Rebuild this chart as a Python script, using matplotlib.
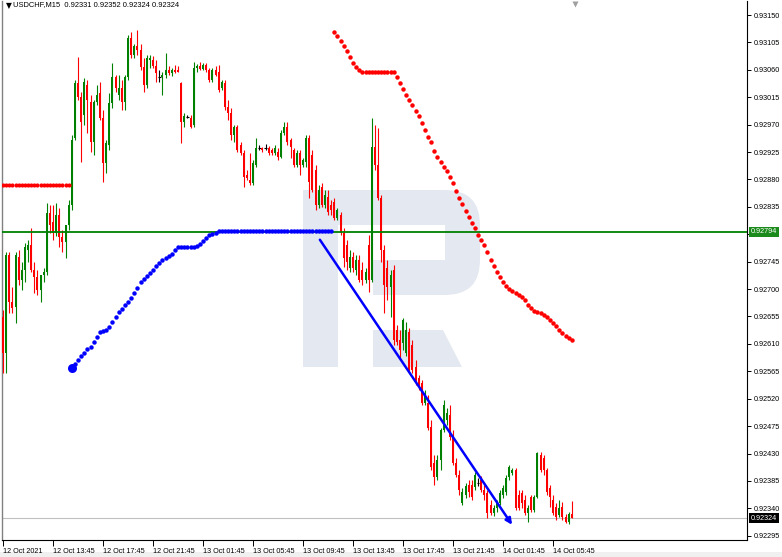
import matplotlib
matplotlib.use("Agg")
import matplotlib.pyplot as plt
from matplotlib.patches import Rectangle, Polygon, FancyBboxPatch
import matplotlib.transforms as mtransforms

# --- data (USDCHF M15, one value per bar) ---
opens = [0.92654, 0.92595, 0.92756, 0.92679, 0.92670, 0.92753, 0.92715, 0.92731, 0.92764, 0.92772,
         0.92731, 0.92720, 0.92698, 0.92723, 0.92728, 0.92825, 0.92810, 0.92792, 0.92822, 0.92785,
         0.92777, 0.92805, 0.92838, 0.92948, 0.93038, 0.93015, 0.92986, 0.93035, 0.93007, 0.92941,
         0.93007, 0.93022, 0.92981, 0.92907, 0.92936, 0.93005, 0.93048, 0.93019, 0.93030, 0.93007,
         0.93048, 0.93112, 0.93084, 0.93099, 0.93092, 0.93065, 0.93035, 0.93076, 0.93076, 0.93066,
         0.93048, 0.93048, 0.93052, 0.93060, 0.93055, 0.93060, 0.93060, 0.93038, 0.92974, 0.92982,
         0.92981, 0.92969, 0.93063, 0.93066, 0.93061, 0.93068, 0.93060, 0.93043, 0.93060, 0.93056,
         0.93030, 0.93038, 0.92999, 0.92989, 0.92953, 0.92966, 0.92937, 0.92923, 0.92887, 0.92879,
         0.92874, 0.92904, 0.92932, 0.92932, 0.92932, 0.92932, 0.92928, 0.92923, 0.92925, 0.92917,
         0.92956, 0.92966, 0.92945, 0.92928, 0.92904, 0.92923, 0.92904, 0.92909, 0.92948, 0.92920,
         0.92895, 0.92838, 0.92868, 0.92838, 0.92851, 0.92838, 0.92843, 0.92817, 0.92822, 0.92792,
         0.92772, 0.92735, 0.92753, 0.92731, 0.92748, 0.92731, 0.92715, 0.92772, 0.92715, 0.92933,
         0.92904, 0.92850, 0.92764, 0.92735, 0.92703, 0.92731, 0.92633, 0.92616, 0.92611, 0.92595,
         0.92629, 0.92608, 0.92572, 0.92554, 0.92546, 0.92513, 0.92513, 0.92474, 0.92414, 0.92391,
         0.92419, 0.92469, 0.92485, 0.92493, 0.92457, 0.92414, 0.92395, 0.92349, 0.92362, 0.92378,
         0.92378, 0.92375, 0.92382, 0.92386, 0.92370, 0.92365, 0.92345, 0.92332, 0.92340, 0.92349,
         0.92362, 0.92367, 0.92391, 0.92398, 0.92403, 0.92362, 0.92365, 0.92354, 0.92332, 0.92359,
         0.92337, 0.92359, 0.92428, 0.92423, 0.92403, 0.92373, 0.92354, 0.92342, 0.92329, 0.92342,
         0.92326, 0.92318, 0.92331]
highs = [0.92666, 0.92761, 0.92761, 0.92703, 0.92761, 0.92764, 0.92744, 0.92776, 0.92781, 0.92800,
         0.92744, 0.92731, 0.92723, 0.92735, 0.92841, 0.92838, 0.92838, 0.92841, 0.92833, 0.92797,
         0.92805, 0.92846, 0.92953, 0.93043, 0.93081, 0.93024, 0.93047, 0.93043, 0.93019, 0.93010,
         0.93035, 0.93040, 0.92994, 0.92945, 0.93022, 0.93071, 0.93052, 0.93052, 0.93043, 0.93052,
         0.93117, 0.93122, 0.93102, 0.93125, 0.93102, 0.93079, 0.93084, 0.93084, 0.93083, 0.93076,
         0.93060, 0.93056, 0.93088, 0.93066, 0.93063, 0.93068, 0.93066, 0.93040, 0.92989, 0.92986,
         0.92986, 0.93073, 0.93070, 0.93073, 0.93071, 0.93071, 0.93063, 0.93063, 0.93066, 0.93068,
         0.93043, 0.93043, 0.93010, 0.92997, 0.92969, 0.92969, 0.92941, 0.92928, 0.92895, 0.92923,
         0.92912, 0.92948, 0.92937, 0.92933, 0.92938, 0.92935, 0.92932, 0.92937, 0.92932, 0.92961,
         0.92974, 0.92974, 0.92948, 0.92932, 0.92928, 0.92928, 0.92915, 0.92953, 0.92953, 0.92928,
         0.92904, 0.92871, 0.92874, 0.92863, 0.92863, 0.92846, 0.92849, 0.92833, 0.92826, 0.92800,
         0.92781, 0.92764, 0.92761, 0.92756, 0.92756, 0.92744, 0.92735, 0.92789, 0.92981, 0.92969,
         0.92964, 0.92854, 0.92772, 0.92748, 0.92731, 0.92740, 0.92641, 0.92633, 0.92652, 0.92646,
         0.92636, 0.92616, 0.92584, 0.92559, 0.92551, 0.92534, 0.92526, 0.92485, 0.92428, 0.92428,
         0.92472, 0.92518, 0.92505, 0.92510, 0.92469, 0.92423, 0.92403, 0.92373, 0.92381, 0.92386,
         0.92386, 0.92400, 0.92390, 0.92393, 0.92378, 0.92370, 0.92354, 0.92345, 0.92354, 0.92370,
         0.92378, 0.92395, 0.92411, 0.92406, 0.92406, 0.92370, 0.92370, 0.92362, 0.92345, 0.92362,
         0.92362, 0.92432, 0.92432, 0.92428, 0.92406, 0.92378, 0.92362, 0.92349, 0.92354, 0.92350,
         0.92331, 0.92334, 0.92352]
lows = [0.92562, 0.92562, 0.92661, 0.92661, 0.92644, 0.92707, 0.92698, 0.92712, 0.92744, 0.92728,
        0.92694, 0.92690, 0.92679, 0.92712, 0.92723, 0.92792, 0.92781, 0.92787, 0.92769, 0.92761,
        0.92751, 0.92797, 0.92830, 0.92945, 0.93010, 0.92909, 0.92969, 0.92956, 0.92925, 0.92920,
        0.93002, 0.92978, 0.92876, 0.92891, 0.92928, 0.92997, 0.93024, 0.93010, 0.92994, 0.92994,
        0.93043, 0.93079, 0.93079, 0.93084, 0.93060, 0.93024, 0.93030, 0.93063, 0.93063, 0.93040,
        0.93040, 0.93019, 0.93047, 0.93052, 0.93050, 0.93055, 0.93056, 0.92940, 0.92966, 0.92981,
        0.92964, 0.92966, 0.93056, 0.93060, 0.93060, 0.93056, 0.93040, 0.93040, 0.93050, 0.93024,
        0.93027, 0.92994, 0.92978, 0.92945, 0.92941, 0.92925, 0.92920, 0.92868, 0.92879, 0.92871,
        0.92871, 0.92900, 0.92928, 0.92925, 0.92928, 0.92920, 0.92920, 0.92920, 0.92912, 0.92915,
        0.92953, 0.92937, 0.92915, 0.92900, 0.92900, 0.92887, 0.92900, 0.92900, 0.92850, 0.92859,
        0.92830, 0.92833, 0.92835, 0.92833, 0.92822, 0.92822, 0.92813, 0.92813, 0.92789, 0.92736,
        0.92731, 0.92728, 0.92728, 0.92723, 0.92712, 0.92707, 0.92710, 0.92695, 0.92712, 0.92895,
        0.92846, 0.92744, 0.92661, 0.92682, 0.92654, 0.92608, 0.92608, 0.92587, 0.92600, 0.92590,
        0.92564, 0.92562, 0.92543, 0.92534, 0.92510, 0.92510, 0.92469, 0.92403, 0.92378, 0.92386,
        0.92403, 0.92465, 0.92477, 0.92452, 0.92411, 0.92391, 0.92362, 0.92345, 0.92357, 0.92359,
        0.92354, 0.92370, 0.92377, 0.92367, 0.92354, 0.92324, 0.92329, 0.92327, 0.92334, 0.92345,
        0.92357, 0.92362, 0.92386, 0.92395, 0.92337, 0.92337, 0.92340, 0.92329, 0.92318, 0.92334,
        0.92334, 0.92357, 0.92400, 0.92395, 0.92362, 0.92342, 0.92329, 0.92321, 0.92326, 0.92321,
        0.92316, 0.92314, 0.92324]
closes = [0.92595, 0.92756, 0.92679, 0.92669, 0.92756, 0.92715, 0.92731, 0.92769, 0.92772, 0.92731,
          0.92720, 0.92698, 0.92723, 0.92728, 0.92825, 0.92805, 0.92792, 0.92822, 0.92785, 0.92777,
          0.92805, 0.92838, 0.92945, 0.93038, 0.93015, 0.92974, 0.93040, 0.93010, 0.92941, 0.93007,
          0.93019, 0.92981, 0.92907, 0.92940, 0.93005, 0.93048, 0.93030, 0.93030, 0.93007, 0.93048,
          0.93112, 0.93084, 0.93099, 0.93092, 0.93065, 0.93035, 0.93079, 0.93079, 0.93066, 0.93055,
          0.93048, 0.93052, 0.93060, 0.93055, 0.93060, 0.93056, 0.93056, 0.92974, 0.92984, 0.92982,
          0.92966, 0.93063, 0.93066, 0.93061, 0.93068, 0.93060, 0.93043, 0.93060, 0.93052, 0.93027,
          0.93040, 0.92999, 0.92989, 0.92953, 0.92966, 0.92928, 0.92923, 0.92884, 0.92882, 0.92874,
          0.92907, 0.92932, 0.92932, 0.92928, 0.92932, 0.92923, 0.92923, 0.92932, 0.92917, 0.92956,
          0.92966, 0.92941, 0.92933, 0.92904, 0.92923, 0.92904, 0.92912, 0.92948, 0.92876, 0.92863,
          0.92838, 0.92863, 0.92838, 0.92854, 0.92826, 0.92830, 0.92817, 0.92830, 0.92792, 0.92751,
          0.92744, 0.92753, 0.92735, 0.92748, 0.92715, 0.92715, 0.92728, 0.92715, 0.92933, 0.92904,
          0.92850, 0.92764, 0.92707, 0.92703, 0.92723, 0.92616, 0.92613, 0.92600, 0.92649, 0.92633,
          0.92567, 0.92567, 0.92547, 0.92539, 0.92513, 0.92529, 0.92472, 0.92408, 0.92391, 0.92419,
          0.92469, 0.92510, 0.92496, 0.92457, 0.92414, 0.92395, 0.92370, 0.92367, 0.92377, 0.92367,
          0.92359, 0.92395, 0.92382, 0.92370, 0.92362, 0.92332, 0.92332, 0.92340, 0.92349, 0.92365,
          0.92373, 0.92390, 0.92408, 0.92403, 0.92340, 0.92340, 0.92349, 0.92332, 0.92340, 0.92337,
          0.92359, 0.92431, 0.92403, 0.92403, 0.92367, 0.92359, 0.92332, 0.92326, 0.92340, 0.92326,
          0.92318, 0.92331, 0.92324]

# trailing-stop dots
stop_dn_left_start = 0
stop_dn_left = [0.92871, 0.92871, 0.92871, 0.92871, 0.92871, 0.92871, 0.92871, 0.92871, 0.92871, 0.92871,
                0.92871, 0.92871, 0.92871, 0.92871, 0.92871, 0.92871, 0.92871, 0.92871, 0.92871, 0.92871,
                0.92871, 0.92871]
stop_up_start = 22
stop_up = [0.92570, 0.92577, 0.92583, 0.92590, 0.92595, 0.92602, 0.92605, 0.92613, 0.92621, 0.92630,
           0.92631, 0.92633, 0.92638, 0.92646, 0.92654, 0.92662, 0.92667, 0.92674, 0.92679, 0.92685,
           0.92694, 0.92702, 0.92712, 0.92717, 0.92722, 0.92726, 0.92731, 0.92738, 0.92743, 0.92748,
           0.92751, 0.92754, 0.92758, 0.92764, 0.92769, 0.92769, 0.92769, 0.92769, 0.92769, 0.92769,
           0.92771, 0.92774, 0.92779, 0.92784, 0.92789, 0.92790, 0.92792, 0.92795, 0.92795, 0.92795,
           0.92795, 0.92795, 0.92795, 0.92795, 0.92795, 0.92795, 0.92795, 0.92795, 0.92795, 0.92795,
           0.92795, 0.92795, 0.92795, 0.92795, 0.92795, 0.92795, 0.92795, 0.92795, 0.92795, 0.92795,
           0.92795, 0.92795, 0.92795, 0.92795, 0.92795, 0.92795, 0.92795, 0.92795, 0.92795, 0.92795,
           0.92795, 0.92795, 0.92795, 0.92795]
stop_dn_right_start = 106
stop_dn_right = [0.93122, 0.93116, 0.93107, 0.93099, 0.93091, 0.93081, 0.93071, 0.93065, 0.93060, 0.93056,
                 0.93056, 0.93056, 0.93056, 0.93056, 0.93056, 0.93056, 0.93056, 0.93056, 0.93056, 0.93056,
                 0.93048, 0.93038, 0.93028, 0.93019, 0.93010, 0.93002, 0.92992, 0.92984, 0.92973, 0.92961,
                 0.92950, 0.92941, 0.92927, 0.92917, 0.92909, 0.92900, 0.92894, 0.92884, 0.92874, 0.92861,
                 0.92849, 0.92840, 0.92828, 0.92818, 0.92808, 0.92800, 0.92789, 0.92781, 0.92772, 0.92761,
                 0.92748, 0.92738, 0.92728, 0.92720, 0.92712, 0.92705, 0.92700, 0.92697, 0.92693, 0.92690,
                 0.92687, 0.92682, 0.92674, 0.92669, 0.92664, 0.92662, 0.92661, 0.92657, 0.92654, 0.92649,
                 0.92644, 0.92639, 0.92633, 0.92628, 0.92623, 0.92620, 0.92616]

hline_price = 0.92794
bid_price = 0.92324
trend_bars = [101.4, 162.9]
trend_prices = [0.92781, 0.92313]

tick_bars = [0, 16, 32, 48, 64, 80, 96, 112, 128, 144, 160, 176]
tick_labels = ["12 Oct 2021", "12 Oct 13:45", "12 Oct 17:45", "12 Oct 21:45", "13 Oct 01:45",
               "13 Oct 05:45", "13 Oct 09:45", "13 Oct 13:45", "13 Oct 17:45", "13 Oct 21:45",
               "14 Oct 01:45", "14 Oct 05:45"]
price_ticks = [0.93150, 0.93105, 0.93060, 0.93015, 0.92970, 0.92925, 0.92880, 0.92835, 0.92790, 0.92745,
               0.92700, 0.92655, 0.92610, 0.92565, 0.92520, 0.92475, 0.92430, 0.92385, 0.92340, 0.92295]

BULL = "#008000"
BEAR = "#ff0000"
FONT = "Liberation Sans"

fig = plt.figure(figsize=(7.82, 5.57), dpi=100)

# watermark layer (figure pixel coordinates)
wm = fig.add_axes([0, 0, 1, 1], zorder=0)
wm.set_xlim(0, 782)
wm.set_ylim(557, 0)
wm.axis("off")
wm_col = "#e4e9f1"
wm.add_patch(FancyBboxPatch((303, 190), 177, 105, boxstyle="round,pad=0,rounding_size=35",
                            fc=wm_col, ec="none"))
wm.add_patch(Rectangle((303, 190), 35, 177, fc=wm_col, ec="none"))
wm.add_patch(Rectangle((338, 225), 35, 70, fc="white", ec="none"))
wm.add_patch(Rectangle((373, 225), 72, 35, fc="white", ec="none"))
wm.add_patch(Polygon([(373, 330), (443, 330), (462, 367), (373, 367)], closed=True, fc=wm_col, ec="none"))
wm.add_patch(Rectangle((0, 552), 782, 5, fc="#f0f0f0", ec="none"))

ax = fig.add_axes([2 / 782, 1 - 540 / 557, 745 / 782, 539 / 557], zorder=1)
ax.set_facecolor("none")
ax.set_xlim(-0.32, 238.08)
ax.set_ylim(0.92288, 0.93173)

# candles
for i in range(len(opens)):
    o, h, l, c = opens[i], highs[i], lows[i], closes[i]
    if c > o:
        col = BULL
    elif c < o:
        col = BEAR
    else:
        col = "black"
    ax.vlines(i, l, h, color=col, lw=0.8, zorder=3)
    if c != o:
        ax.add_patch(Rectangle((i - 0.32, min(o, c)), 0.64, abs(c - o), fc=col, ec="none", zorder=3))
    else:
        ax.hlines(o, i - 0.45, i + 0.45, color=col, lw=0.8, zorder=3)

# horizontal line + bid line
ax.axhline(hline_price, color="#008000", lw=1.3, zorder=4)
ax.axhline(bid_price, color="#c0c0c0", lw=0.8, zorder=2)

# trailing stop dots
ax.plot(range(stop_dn_left_start, stop_dn_left_start + len(stop_dn_left)), stop_dn_left,
        "o", ms=3.0, color="#ff0000", mec="none", zorder=5)
ax.plot(range(stop_up_start, stop_up_start + len(stop_up)), stop_up,
        "o", ms=3.2, color="#0000ff", mec="none", zorder=5)
ax.plot([stop_up_start], [stop_up[0]], "o", ms=6.5, color="#0000ff", mec="none", zorder=5)
ax.plot(range(stop_dn_right_start, stop_dn_right_start + len(stop_dn_right)), stop_dn_right,
        "o", ms=3.2, color="#ff0000", mec="none", zorder=5)

# trend arrow
ax.annotate("", xy=(trend_bars[1], trend_prices[1]), xytext=(trend_bars[0], trend_prices[0]),
            arrowprops=dict(arrowstyle="-|>", color="#0000ff", lw=1.8, shrinkA=0, shrinkB=0,
                            mutation_scale=9), zorder=6)

# axes styling
ax.spines["top"].set_visible(False)
ax.spines["left"].set_color("#808080")
ax.spines["left"].set_linewidth(1.0)
for s in ["right", "bottom"]:
    ax.spines[s].set_color("black")
    ax.spines[s].set_linewidth(0.8)

# the 0.92790 label sits under the green price box, so leave it blank
ax.yaxis.tick_right()
ax.set_yticks(price_ticks)
ax.set_yticklabels(["" if abs(p - hline_price) < 0.0001 else f"{p:.5f}" for p in price_ticks],
                   fontsize=5.2, family=FONT)
ax.tick_params(axis="y", direction="out", length=3, width=0.7, pad=1.5, colors="black")

ax.set_xticks(tick_bars)
ax.set_xticklabels(tick_labels, fontsize=5.2, family=FONT, ha="left")
ax.tick_params(axis="x", direction="out", length=4, width=0.7, pad=1.5)

# price labels on the right
blend = mtransforms.blended_transform_factory(ax.transAxes, ax.transData)
ax.text(1.0055, hline_price, f"{hline_price:.5f}", transform=blend, ha="left", va="center",
        fontsize=5.2, family=FONT, color="white", zorder=10, clip_on=False,
        bbox=dict(boxstyle="square,pad=0.25", fc="#1a8a1a", ec="none"))
ax.text(1.0055, bid_price, f"{bid_price:.5f}", transform=blend, ha="left", va="center",
        fontsize=5.2, family=FONT, color="white", zorder=10, clip_on=False,
        bbox=dict(boxstyle="square,pad=0.25", fc="black", ec="none"))

# header
ax.text(0.0050, 0.9925, "\u25bc", transform=ax.transAxes, ha="left", va="center", fontsize=5.5,
        color="black", family="DejaVu Sans")
ax.text(0.0150, 0.9925, f"USDCHF,M15  {opens[-1]:.5f} {highs[-1]:.5f} {lows[-1]:.5f} {closes[-1]:.5f}",
        transform=ax.transAxes, ha="left", va="center", fontsize=5.4, family=FONT, color="black")

# chart-shift marker at the top
topblend = mtransforms.blended_transform_factory(ax.transData, ax.transAxes)
ax.plot([183], [0.995], marker="v", ms=5, color="#a0a0a0", mec="none", transform=topblend,
        clip_on=False, zorder=7)

fig.savefig("out.png", dpi=100, facecolor="white")
